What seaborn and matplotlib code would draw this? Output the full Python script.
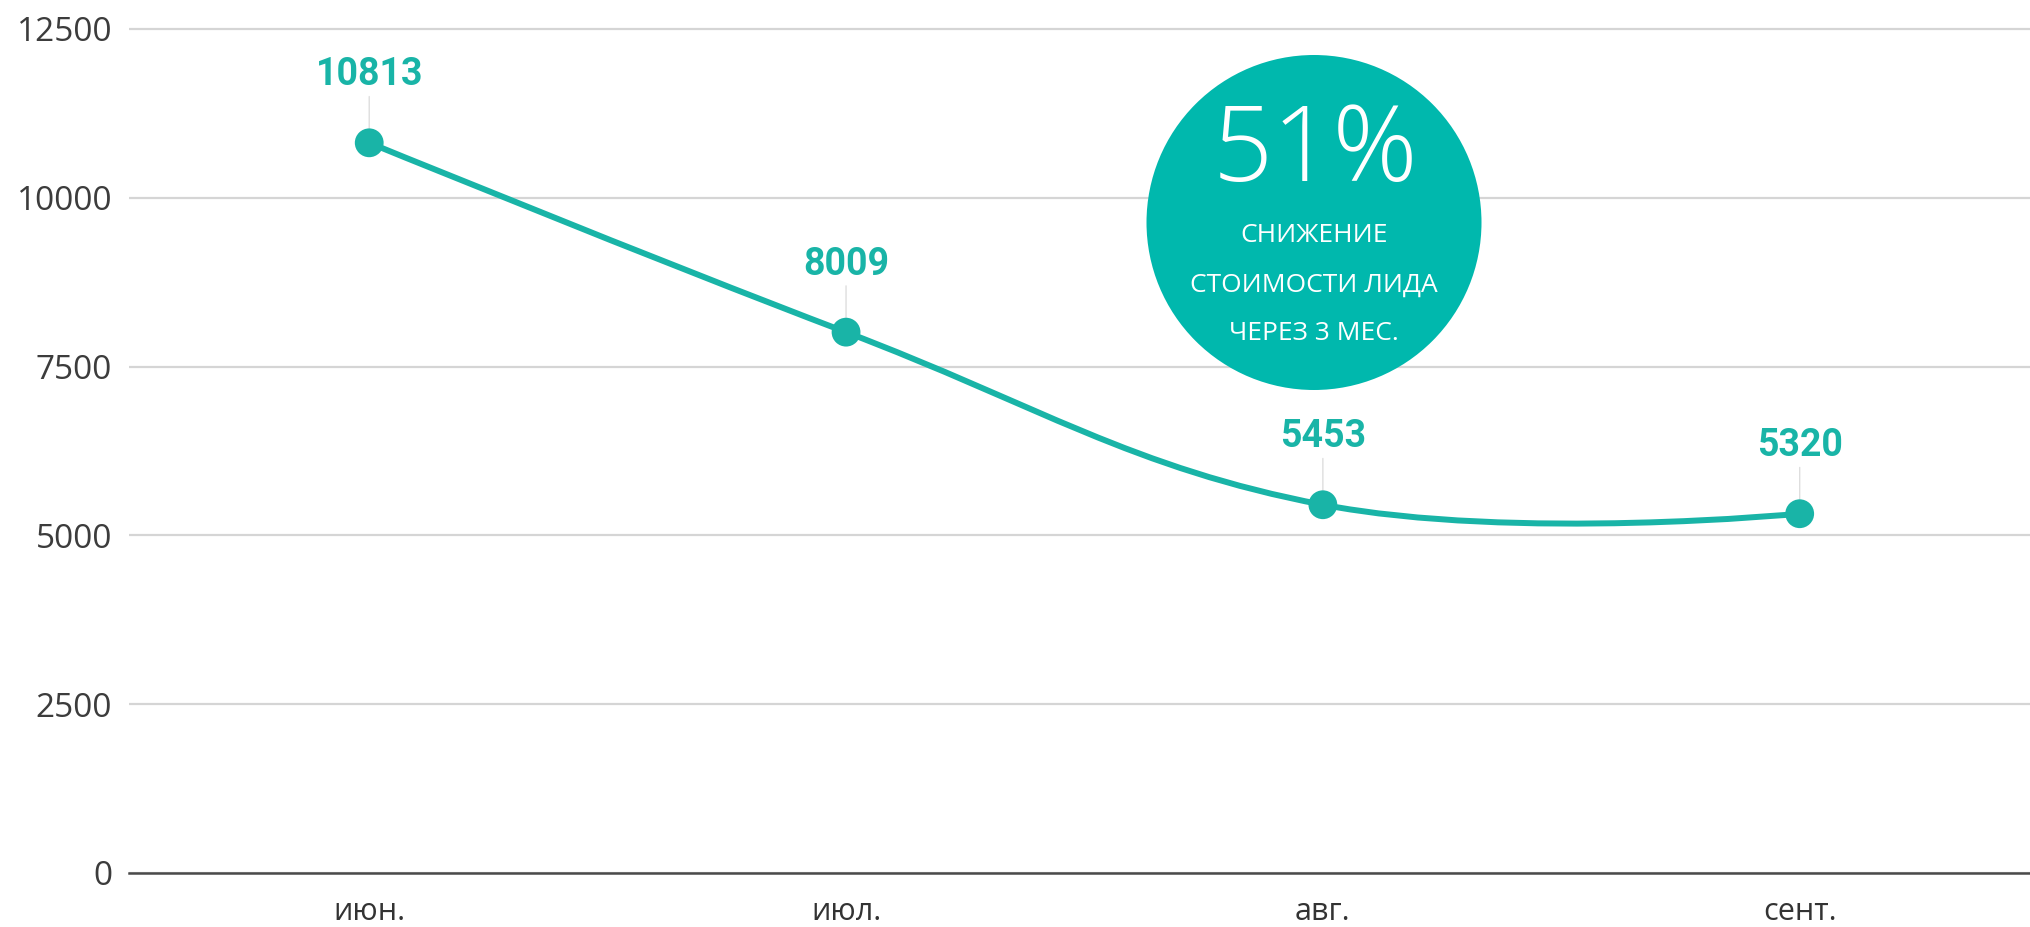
import numpy as np
import pandas as pd
import matplotlib
matplotlib.use('Agg')
import matplotlib.pyplot as plt
import seaborn as sns
from matplotlib.path import Path
from matplotlib.patches import PathPatch, Circle

# data
months = ['июн.', 'июл.', 'авг.', 'сент.']
cost = [10813, 8009, 5453, 5320]
y_ticks = [0, 2500, 5000, 7500, 10000, 12500]

badge_value = '51%'
badge_lines = ['СНИЖЕНИЕ', 'СТОИМОСТИ ЛИДА', 'ЧЕРЕЗ 3 МЕС.']

TEAL = '#19b4a7'
BADGE = '#00b8ad'

sns.set_style('white')
plt.rcParams['font.family'] = ['Open Sans', 'DejaVu Sans']


def spline_path(xs, ys, smoothing=1.5):
    """Smooth curve through the points (cubic bezier, spline-like)"""
    n = len(xs)
    left = [(x, y) for x, y in zip(xs, ys)]
    right = list(left)
    denom = smoothing + 1
    for i in range(1, n - 1):
        px, py = xs[i], ys[i]
        lx = (smoothing * px + xs[i - 1]) / denom
        ly = (smoothing * py + ys[i - 1]) / denom
        rx = (smoothing * px + xs[i + 1]) / denom
        ry = (smoothing * py + ys[i + 1]) / denom
        corr = (ry - ly) * (rx - px) / (rx - lx) + py - ry
        left[i] = (lx, ly + corr)
        right[i] = (rx, ry + corr)
    verts = [(xs[0], ys[0])]
    codes = [Path.MOVETO]
    for i in range(1, n):
        verts += [right[i - 1], left[i], (xs[i], ys[i])]
        codes += [Path.CURVE4] * 3
    return Path(verts, codes)


df = pd.DataFrame({'pos': np.arange(len(months)), 'cost': cost})

fig = plt.figure(figsize=(20.3, 9.27), dpi=100)
ax = fig.add_axes([0.0635, 0.0583, 0.9365, 0.931])

# line
path = spline_path(df['pos'].tolist(), df['cost'].tolist())
ax.add_patch(PathPatch(path, facecolor='none', edgecolor=TEAL, lw=4.3,
                       zorder=3, capstyle='round'))

sns.scatterplot(data=df, x='pos', y='cost', ax=ax, color=TEAL, s=430,
                edgecolor='none', zorder=4, legend=False)

# value labels with thin leader lines
for x, v in zip(df['pos'], df['cost']):
    ax.annotate(str(v), xy=(x, v), xytext=(0, 49), textcoords='offset points',
                ha='center', va='center', fontsize=27, fontweight='bold',
                family=['Roboto', 'DejaVu Sans'], color=TEAL,
                arrowprops=dict(arrowstyle='-', color='#dedede', lw=1,
                                shrinkA=0, shrinkB=0), zorder=2)

ax.set_xlim(-0.504, 3.483)
ax.set_ylim(0, 12781)
ax.set_yticks(y_ticks)
ax.set_yticklabels([str(t) for t in y_ticks])
ax.set_xticks(df['pos'])
ax.set_xticklabels(months)
ax.set_xlabel('')
ax.set_ylabel('')

ax.yaxis.grid(True, color='#d5d5d5', lw=1.6, zorder=0)
ax.xaxis.grid(False)
ax.set_axisbelow(True)
for side in ['top', 'right', 'left']:
    ax.spines[side].set_visible(False)
ax.spines['bottom'].set_color('#4a4a4a')
ax.spines['bottom'].set_linewidth(1.8)
ax.tick_params(axis='y', length=0, pad=12, labelsize=24, labelcolor='#3c3c3c')
ax.tick_params(axis='x', length=0, pad=17, labelsize=22, labelcolor='#333333')

# badge
fig.add_artist(Circle((13.14, 7.045), 1.675, transform=fig.dpi_scale_trans,
                      facecolor=BADGE, edgecolor='none', zorder=5))
fig.text(13.15, 7.74, badge_value, transform=fig.dpi_scale_trans,
         ha='center', va='center', fontsize=76, fontweight='light',
         color='white', zorder=6)
for yy, line in zip([6.91, 6.42, 5.93], badge_lines):
    fig.text(13.14, yy, line, transform=fig.dpi_scale_trans, ha='center',
             va='center', fontsize=19, color='white', zorder=6)

fig.savefig('out.png', dpi=100, facecolor='white')
